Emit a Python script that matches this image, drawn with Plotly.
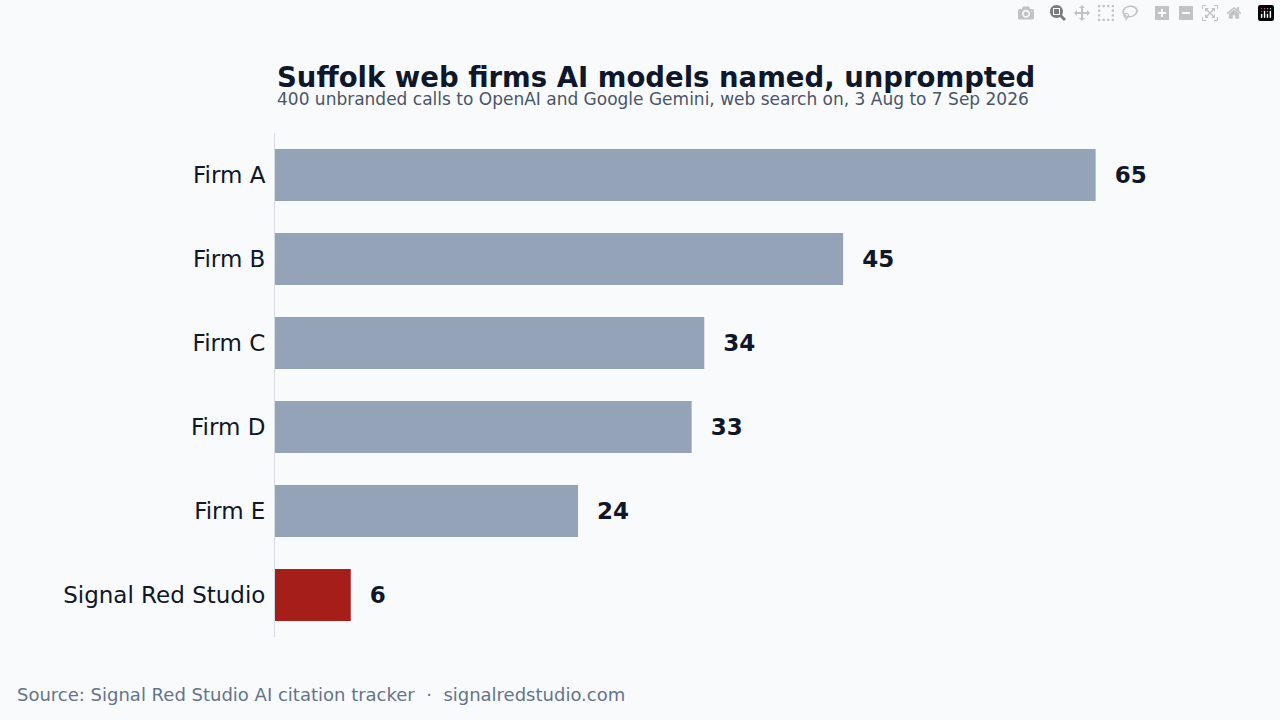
import plotly.graph_objects as go

firms = ["Firm A", "Firm B", "Firm C", "Firm D", "Firm E", "Signal Red Studio"]
mentions = [65, 45, 34, 33, 24, 6]
colors = ["#94a3b8"] * 5 + ["#a61e1a"]

fig = go.Figure(go.Bar(
    x=mentions, y=firms, orientation="h",
    marker=dict(color=colors, line=dict(width=0)),
    text=["  " + str(v) for v in mentions], textposition="outside",
    textfont=dict(family="DejaVu Sans", size=23, color="#0f172a", weight="bold"),
    cliponaxis=False, width=0.62,
))

fig.update_layout(
    width=1280, height=720,
    paper_bgcolor="#f8fafc", plot_bgcolor="#f8fafc",
    margin=dict(l=275, r=96, t=133, b=83),
    font=dict(family="DejaVu Sans", color="#0f172a"),
    showlegend=False,
    annotations=[
        dict(text="<b>Suffolk web firms AI models named, unprompted</b>", x=0, y=1.0,
             xref="paper", yref="paper", showarrow=False, xanchor="left", yanchor="middle",
             yshift=56, font=dict(size=27.5, color="#0f172a")),
        dict(text="400 unbranded calls to OpenAI and Google Gemini, web search on, 3 Aug to 7 Sep 2026",
             x=0, y=1.0, xref="paper", yref="paper", showarrow=False,
             xanchor="left", yanchor="middle", yshift=34,
             font=dict(size=17, color="#4a5568")),
        dict(text="Source: Signal Red Studio AI citation tracker  ·  signalredstudio.com",
             x=-260/909, y=0, xref="paper", yref="paper", showarrow=False,
             xanchor="left", yanchor="middle", yshift=-57,
             font=dict(size=18, color="#64748b")),
    ],
)

fig.update_xaxes(range=[0, 72], visible=False)
fig.update_yaxes(autorange="reversed", showline=True, linecolor="#d6dbe2", linewidth=1,
                 ticks="", tickfont=dict(size=23, color="#0f172a"), ticklabelstandoff=4)

fig.write_html("out.html", post_script="document.body.style.margin='0';")
